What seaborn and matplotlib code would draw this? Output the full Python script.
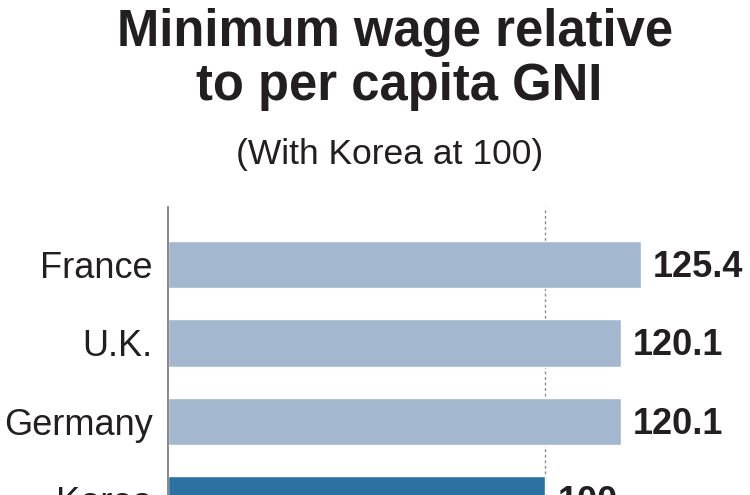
import matplotlib
matplotlib.use("Agg")
import matplotlib.pyplot as plt
import seaborn as sns
import pandas as pd

countries = ["France", "U.K.", "Germany", "Korea"]
values = [125.4, 120.1, 120.1, 100]
value_labels = ["125.4", "120.1", "120.1", "100"]
bar_colors = ["#a3b8ce", "#a3b8ce", "#a3b8ce", "#2b72a2"]
title_lines = ["Minimum wage relative", "to per capita GNI"]
subtitle = "(With Korea at 100)"

sns.set_theme(style="white")
plt.rcParams["font.family"] = ["Liberation Sans", "DejaVu Sans"]
text_color = "#231f20"

df = pd.DataFrame({"country": countries, "value": values})

W, H = 750, 495
fig = plt.figure(figsize=(7.5, 4.95), dpi=100)
ax = fig.add_axes([0.224, -0.0894, 0.76, 0.6712])
sns.barplot(data=df, x="value", y="country", hue="country", palette=bar_colors,
            order=countries, hue_order=countries, legend=False, width=0.6,
            saturation=1, ax=ax)

ax.set_xlim(0, 151)
ax.set_ylim(3.5, -0.732)
ax.axvline(100, color="#8a8a8a", lw=1.0, ls=(0, (2, 2)), zorder=0)

for i, (v, lab) in enumerate(zip(values, value_labels)):
    ax.annotate(lab, xy=(v, i), xytext=(8.5, -2), textcoords="offset points",
                ha="left", va="center", fontsize=26, fontweight="bold",
                color=text_color, annotation_clip=False)

for s in ["top", "right", "bottom"]:
    ax.spines[s].set_visible(False)
ax.spines["left"].set_color("#7f7f7f")
ax.spines["left"].set_linewidth(1.3)
ax.set_xlabel("")
ax.set_ylabel("")
ax.set_xticks([])
ax.tick_params(axis="y", length=0, pad=11, labelsize=26, labelcolor=text_color)

fig.text(395 / W, 1 - 46 / H, title_lines[0], ha="center", va="baseline",
         fontsize=36.5, fontweight="bold", color=text_color)
fig.text(399 / W, 1 - 100 / H, title_lines[1], ha="center", va="baseline",
         fontsize=36.5, fontweight="bold", color=text_color)
fig.text(390 / W, 1 - 164 / H, subtitle, ha="center", va="baseline",
         fontsize=25.5, color=text_color)

fig.savefig("out.png", dpi=100)
